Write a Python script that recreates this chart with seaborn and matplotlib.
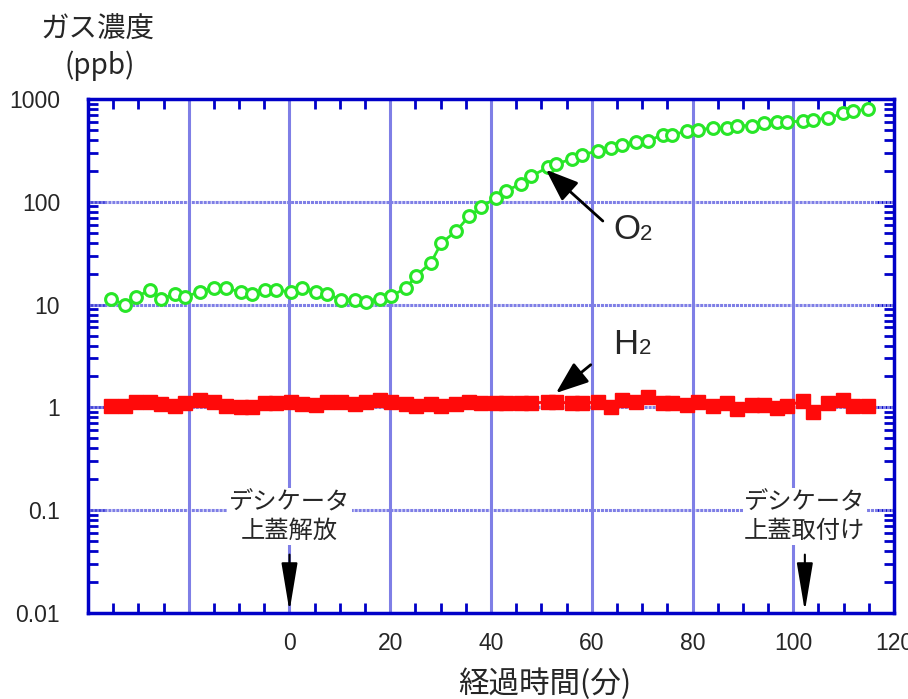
import numpy as np
import pandas as pd
import matplotlib
matplotlib.use("Agg")
import matplotlib.pyplot as plt
from matplotlib.ticker import FixedLocator, LogLocator, NullFormatter, FixedFormatter
import seaborn as sns

# temps (min) et concentrations
temps = [-35.4, -32.7, -30.5, -27.7, -25.5, -22.8, -20.8, -17.8, -14.9, -12.7,
         -9.7, -7.5, -4.8, -2.6, 0.2, 2.4, 5.3, 7.5, 10.3, 13.1,
         15.2, 18.0, 20.2, 23.2, 25.1, 28.1, 30.1, 33.1, 35.6, 38.0,
         41.0, 43.0, 45.9, 47.9, 51.3, 52.9, 56.0, 58.0, 61.2, 63.8,
         66.1, 68.7, 71.1, 74.1, 76.0, 79.0, 81.0, 84.0, 86.9, 88.9,
         91.9, 94.1, 96.8, 98.8, 102.0, 104.0, 106.9, 109.9, 111.9, 114.9]

o2 = [11.4, 10.0, 11.9, 13.8, 11.4, 12.6, 11.8, 13.4, 14.5, 14.6,
      13.2, 12.7, 13.8, 14.0, 13.2, 14.5, 13.4, 12.7, 11.1, 11.1,
      10.7, 11.4, 12.1, 14.6, 19.0, 25.6, 39.5, 52, 72, 88,
      110, 128, 149, 177, 216, 233, 260, 285, 313, 331,
      357, 379, 393, 446, 446, 491, 502, 521, 521, 550,
      550, 580, 601, 601, 607, 629, 653, 726, 759, 800]

h2 = [1.04, 1.04, 1.12, 1.13, 1.08, 1.04, 1.10, 1.19, 1.13, 1.04,
      1.02, 1.02, 1.10, 1.10, 1.13, 1.08, 1.06, 1.12, 1.13, 1.08,
      1.13, 1.19, 1.13, 1.08, 1.04, 1.08, 1.04, 1.08, 1.13, 1.10,
      1.10, 1.10, 1.10, 1.10, 1.13, 1.13, 1.10, 1.10, 1.13, 1.00,
      1.19, 1.13, 1.25, 1.10, 1.10, 1.06, 1.13, 1.04, 1.10, 0.96,
      1.06, 1.06, 0.98, 1.04, 1.16, 0.91, 1.10, 1.19, 1.04, 1.04]

yticks = [0.01, 0.1, 1, 10, 100, 1000]
ytick_labels = ["0.01", "0.1", "1", "10", "100", "1000"]
xticks = [-40, -20, 0, 20, 40, 60, 80, 100, 120]
xtick_labels = ["", "", "0", "20", "40", "60", "80", "100", "120"]

df = pd.DataFrame({"temps": temps, "O2": o2, "H2": h2})

sns.set_style("ticks")
jp = ["Noto Sans CJK JP", "DejaVu Sans"]
num = ["Liberation Sans Narrow", "Liberation Sans", "DejaVu Sans"]
plt.rcParams["font.family"] = jp

bleu = "#0000c8"
grille = "#7f7fe6"
vert = "#28e628"
rouge = "#ff0a0a"

fig = plt.figure(figsize=(9.08, 6.99), dpi=100)
ax = fig.add_axes([0.0969, 0.123, 0.8877, 0.7354])
ax.set_yscale("log")

sns.lineplot(data=df, x="temps", y="O2", ax=ax, color=vert, lw=2,
             marker="o", ms=8.5, mfc="white", mec=vert, mew=2.2, zorder=4)
sns.lineplot(data=df, x="temps", y="H2", ax=ax, color=rouge, lw=2,
             marker="s", ms=9.5, mfc=rouge, mec=rouge, mew=1, zorder=4)

ax.set_xlim(-40, 120)
ax.set_ylim(0.01, 1000)
ax.set_xlabel("")
ax.set_ylabel("")

# grille
for v in [-20, 0, 20, 40, 60, 80, 100]:
    ax.axvline(v, color=grille, lw=2.2, zorder=1)
for v in [0.1, 1, 10, 100]:
    ax.axhline(v, color=grille, lw=2.2, ls=(0, (1, 0.3)), zorder=1)

ax.xaxis.set_major_locator(FixedLocator(xticks))
ax.xaxis.set_major_formatter(FixedFormatter(xtick_labels))
ax.xaxis.set_minor_locator(FixedLocator(np.arange(-40, 121, 5)))
ax.yaxis.set_major_locator(FixedLocator(yticks))
ax.yaxis.set_major_formatter(FixedFormatter(ytick_labels))
ax.yaxis.set_minor_locator(LogLocator(base=10, subs=np.arange(2, 10)))
ax.yaxis.set_minor_formatter(NullFormatter())
ax.tick_params(which="both", direction="in", top=True, right=True, color=bleu)
ax.tick_params(which="major", length=12, width=2)
ax.tick_params(which="minor", length=7, width=2)
ax.tick_params(axis="x", which="major", pad=14)
ax.tick_params(axis="y", which="major", pad=20)
for lab in ax.get_xticklabels() + ax.get_yticklabels():
    lab.set_family(num)
    lab.set_fontsize(16.5)
for s in ax.spines.values():
    s.set_color(bleu)
    s.set_linewidth(2.5)
    s.set_zorder(5)

fleche = dict(arrowstyle="-|>,head_length=1.0,head_width=0.38",
              mutation_scale=20, color="black", lw=2, shrinkA=0, shrinkB=0)

# fleches O2 / H2
ax.annotate("", xy=(50.9, 205), xytext=(62.2, 65), arrowprops=fleche, zorder=6)
t_o = ax.text(64.2, 43, "O", fontsize=25, family=num, ha="left", va="baseline")
ax.annotate("2", xy=(1.0, 0.2), xycoords=t_o, fontsize=16, family=num,
            ha="left", va="baseline")
ax.annotate("", xy=(52.9, 1.38), xytext=(59.8, 2.6), arrowprops=fleche, zorder=6)
t_h = ax.text(64.3, 3.3, "H", fontsize=25, family=num, ha="left", va="baseline")
ax.annotate("2", xy=(1.0, 0.2), xycoords=t_h, fontsize=16, family=num,
            ha="left", va="baseline")

# evenements dessiccateur
fleche_v = dict(arrowstyle="-|>,head_length=1.5,head_width=0.25",
                mutation_scale=20, color="black", lw=1.5, shrinkA=0, shrinkB=0)
for xv, txt in [(0, "デシケータ\n上蓋解放"), (102.3, "デシケータ\n上蓋取付け")]:
    ax.text(xv, 0.086, txt, fontsize=17.5, ha="center", va="center",
            linespacing=1.1, zorder=6,
            bbox=dict(facecolor="white", edgecolor="none", pad=1))
    ax.annotate("", xy=(xv, 0.0104), xytext=(xv, 0.037),
                arrowprops=fleche_v, zorder=6)

fig.text(97 / 908, 1 - 30 / 699, "ガス濃度", fontsize=20.5, ha="center", va="center")
fig.text(100 / 908, 1 - 66 / 699, "(ppb)", fontsize=20, ha="center", va="center")
fig.text(545 / 908, 1 - 684 / 699, "経過時間(分)", fontsize=22, ha="center", va="center")

fig.savefig("out.png", dpi=100)
